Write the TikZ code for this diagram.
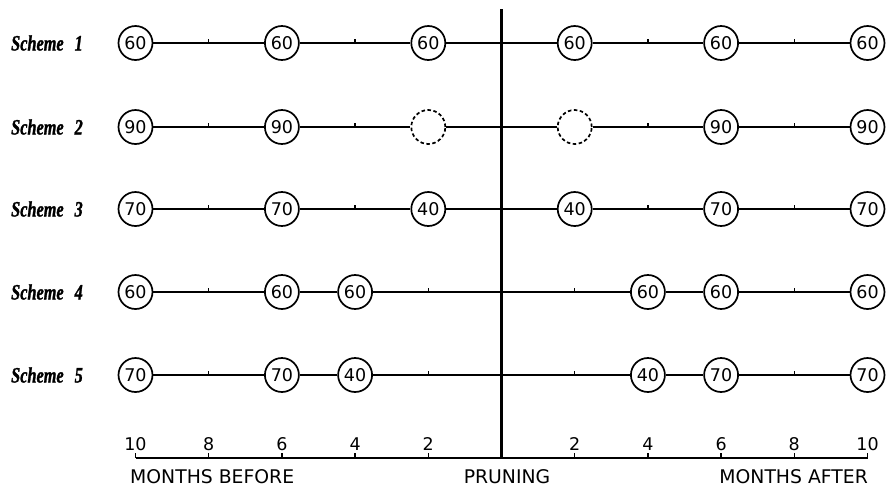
\documentclass[tikz,border=0pt]{standalone}
\usepackage{fontspec}
\setmainfont{Liberation Serif}
\newfontfamily\numfont{DejaVu Sans}
\newfontfamily\schemefont[FakeStretch=0.74,FakeBold=1.2]{Liberation Serif Bold Italic}
\begin{document}
\begin{tikzpicture}[x=1pt,y=-1pt,
  val/.style={circle,draw,line width=1.7pt,minimum size=34pt,inner sep=0pt,
    font=\numfont\fontsize{17.5}{17.5}\selectfont},
  gap/.style={val,dashed,dash pattern=on 3.5pt off 2.5pt},
  ln/.style={line width=1.7pt},
  tick/.style={line width=1.4pt},
  lbl/.style={anchor=west,inner sep=0pt,font=\schemefont\fontsize{22}{22}\selectfont},
  axnum/.style={inner sep=0pt,font=\numfont\fontsize{17.5}{17.5}\selectfont},
  axlbl/.style={inner sep=0pt,font=\numfont\fontsize{18.8}{18.8}\selectfont},
]
\useasboundingbox (0,0) rectangle (886,488);
\fill[white] (0,0) rectangle (886,488);

% scheme labels
\node[lbl] (s1) at (11,43) {Scheme\hspace{0.5em}1};
\node[lbl] (s2) at (11,127) {Scheme\hspace{0.5em}2};
\node[lbl] (s3) at (11,209) {Scheme\hspace{0.5em}3};
\node[lbl] (s4) at (11,292) {Scheme\hspace{0.5em}4};
\node[lbl] (s5) at (11,375) {Scheme\hspace{0.5em}5};

% row 1
\foreach \i/\m/\v/\s in {1/-10/60/val,2/-6/60/val,3/-2/60/val,4/2/60/val,5/6/60/val,6/10/60/val}
  \node[\s] (a\i) at ({501.5+36.6*\m},43) {\v};
% row 2
\foreach \i/\m/\v/\s in {1/-10/90/val,2/-6/90/val,3/-2/{}/gap,4/2/{}/gap,5/6/90/val,6/10/90/val}
  \node[\s] (b\i) at ({501.5+36.6*\m},127) {\v};
% row 3
\foreach \i/\m/\v/\s in {1/-10/70/val,2/-6/70/val,3/-2/40/val,4/2/40/val,5/6/70/val,6/10/70/val}
  \node[\s] (c\i) at ({501.5+36.6*\m},209) {\v};
% row 4
\foreach \i/\m/\v/\s in {1/-10/60/val,2/-6/60/val,3/-4/60/val,4/4/60/val,5/6/60/val,6/10/60/val}
  \node[\s] (d\i) at ({501.5+36.6*\m},292) {\v};
% row 5
\foreach \i/\m/\v/\s in {1/-10/70/val,2/-6/70/val,3/-4/40/val,4/4/40/val,5/6/70/val,6/10/70/val}
  \node[\s] (e\i) at ({501.5+36.6*\m},375) {\v};

% connecting lines
\foreach \r in {a,b,c,d,e}
  \draw[ln] (\r1) -- (\r2) -- (\r3) -- (\r4) -- (\r5) -- (\r6);

% ticks on rows
\foreach \y in {43,127,209}
  \foreach \m in {-8,-4,4,8}
    \draw[tick] ({501.5+36.6*\m},\y) -- ++(0,-4.5);
\foreach \y in {292,375}
  \foreach \m in {-8,-2,2,8}
    \draw[tick] ({501.5+36.6*\m},\y) -- ++(0,-4.5);

% pruning line
\coordinate (pt) at (501.5,9);
\coordinate (pb) at (501.5,459);
\draw[line width=2.4pt] (pt) -- (pb);

% axis
\coordinate (axL) at (135.5,458);
\coordinate (axR) at (867.5,458);
\draw[ln] (axL) -- (axR);
\foreach \i/\m/\t in {1/-10/10,2/-8/8,3/-6/6,4/-4/4,5/-2/2,6/2/2,7/4/4,8/6/6,9/8/8,10/10/10}{
  \draw[tick] ({501.5+36.6*\m},458) -- ++(0,-5.5);
  \node[axnum] (n\i) at ({501.5+36.6*\m},444) {\t};
}
\node[axlbl,anchor=west] (mb) at (130,477) {MONTHS BEFORE};
\node[axlbl] (pr) at (507,477) {PRUNING};
\node[axlbl,anchor=east] (ma) at (868,477) {MONTHS AFTER};
\end{tikzpicture}
\end{document}
